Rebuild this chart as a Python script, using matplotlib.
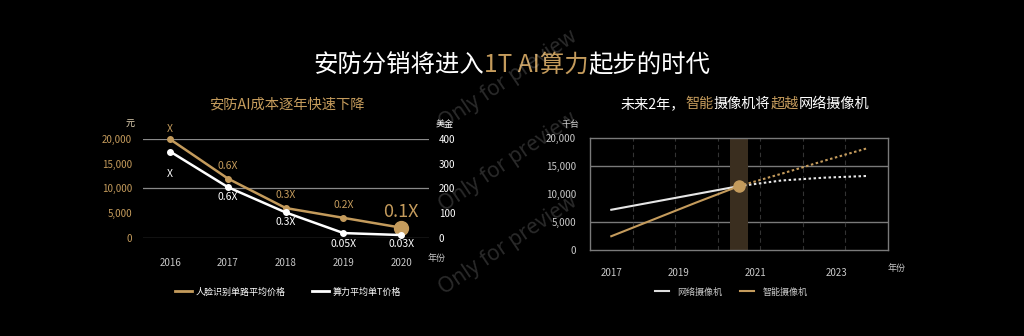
import matplotlib
matplotlib.use("Agg")
import matplotlib.pyplot as plt
from matplotlib.lines import Line2D

plt.rcParams['font.family'] = ['Noto Sans CJK SC', 'DejaVu Sans']

# ---- data -------------------------------------------------------------
cost_years = [2016, 2017, 2018, 2019, 2020]
face_price = [20000, 12000, 6000, 4000, 2000]          # 元, left axis
face_labels = ['X', '0.6X', '0.3X', '0.2X', '0.1X']
tflop_price = [350, 205, 102, 18, 10]                 # 美金, right axis
tflop_labels = ['X', '0.6X', '0.3X', '0.05X', '0.03X']
left_yticks = [0, 5000, 10000, 15000, 20000]
right_yticks = [0, 100, 200, 300, 400]

cam_years_hist = [2017, 2018, 2019, 2020]
cam_years_fcst = [2020, 2021, 2022, 2023]
ipc_hist = [7200, 8600, 10000, 11400]                 # 网络摄像机, 千台
ipc_fcst = [11400, 12400, 12900, 13200]
smart_hist = [2500, 5500, 8500, 11400]                # 智能摄像机, 千台
smart_fcst = [11400, 13600, 15900, 18100]
cross_year = 2020
cam_yticks = [0, 5000, 10000, 15000, 20000]
cam_tick_labels = ['2017', '2019', '2021', '2023']
cam_tick_pos = [2017.0, 2018.58, 2020.38, 2022.28]

# ---- style ------------------------------------------------------------
W, H = 1024, 336
BG = '#000000'
GOLD = '#c49b5c'
WHITE = '#f2f2f2'
GRID = '#8a8a8a'
TICK = '#c8c8c8'

fig = plt.figure(figsize=(W / 100, H / 100), dpi=100, facecolor=BG)


def fx(px):
    return px / W


def fy(py):
    return 1 - py / H


def rich_text(xc, yc, parts, size):
    """Place consecutive coloured text runs centred on (xc, yc) in pixels."""
    renderer = fig.canvas.get_renderer()
    items = [fig.text(0, fy(yc), s, color=c, fontsize=size, ha='left', va='center')
             for s, c in parts]
    widths = [t.get_window_extent(renderer).width for t in items]
    x = xc - sum(widths) / 2
    for t, w in zip(items, widths):
        t.set_x(fx(x))
        x += w


# ---- titles -----------------------------------------------------------
rich_text(512, 65, [('安防分销将进入', 'white'), ('1T AI算力', GOLD), ('起步的时代', 'white')], 17.6)
rich_text(287, 104, [('安防AI成本逐年快速下降', GOLD)], 10.3)
rich_text(745, 104, [('未来2年，', 'white'), ('智能', GOLD), ('摄像机将', 'white'),
                     ('超越', GOLD), ('网络摄像机', 'white')], 10.2)

# ---- left chart: cost decline ----------------------------------------
ax1 = fig.add_axes([fx(143), fy(237.5), (429 - 143) / W, (237.5 - 139.3) / H])
ax1.set_facecolor('none')
ax1.set_xlim(2015.53, 2020.48)
ax1.set_ylim(0, 20000)
for v in (0, 10000, 20000):
    ax1.axhline(v, color=GRID, lw=0.9, zorder=0)
for s in ax1.spines.values():
    s.set_visible(False)
ax1.set_yticks(left_yticks)
ax1.set_yticklabels([f'{v:,}' for v in left_yticks])
ax1.set_xticks(cost_years)
ax1.set_xticklabels([str(y) for y in cost_years])
ax1.tick_params(axis='y', length=0, pad=8, labelsize=7, labelcolor=GOLD)
ax1.tick_params(axis='x', length=0, pad=15, labelsize=7, labelcolor=TICK)

ax2 = ax1.twinx()
ax2.set_ylim(0, 400)
for s in ax2.spines.values():
    s.set_visible(False)
ax2.set_yticks(right_yticks)
ax2.tick_params(axis='y', length=0, pad=7, labelsize=7, labelcolor='white')

ax1.plot(cost_years, face_price, color=GOLD, lw=1.8, marker='o', ms=4, zorder=3, clip_on=False)
ax1.plot(cost_years[-1], face_price[-1], 'o', color=GOLD, ms=10, zorder=4, clip_on=False)
ax2.plot(cost_years, tflop_price, color='white', lw=1.8, marker='o', ms=4, zorder=3, clip_on=False)

gold_off = [10, 13, 13, 13, 16]
for x, y, lab, off in zip(cost_years, face_price, face_labels, gold_off):
    big = lab == face_labels[-1]
    ax1.annotate(lab, (x, y), xytext=(0, off), textcoords='offset pixels', ha='center',
                 va='center', color=GOLD, fontsize=13 if big else 7.5,
                 annotation_clip=False)
white_off = [-22, -10, -10, -11, -9]
for x, y, lab, off in zip(cost_years, tflop_price, tflop_labels, white_off):
    ax2.annotate(lab, (x, y), xytext=(0, off), textcoords='offset pixels', ha='center',
                 va='center', color='white', fontsize=7.5, annotation_clip=False)

fig.text(fx(130), fy(124), '元', color='#e8d8b8', fontsize=6.5, ha='center', va='center')
fig.text(fx(445), fy(124), '美金', color='white', fontsize=6.5, ha='center', va='center')
fig.text(fx(437), fy(258), '年份', color=TICK, fontsize=6.5, ha='center', va='center')

fig.legend(handles=[Line2D([], [], color=GOLD, lw=2), Line2D([], [], color='white', lw=2)],
           labels=['人脸识别单路平均价格', '算力平均单T价格'], ncol=2,
           loc='center left', bbox_to_anchor=(fx(175), fy(292)), frameon=False,
           fontsize=6.5, labelcolor='white', borderpad=0, borderaxespad=0,
           handlelength=1.9, handletextpad=0.4, columnspacing=2.9)

# ---- right chart: camera shipments -----------------------------------
ax3 = fig.add_axes([fx(590), fy(250.3), (888 - 590) / W, (250.3 - 137.7) / H])
ax3.set_facecolor('none')
ax3.set_xlim(2016.5, 2023.5)
ax3.set_ylim(0, 20000)
for s in ax3.spines.values():
    s.set_color('#7a7a7a')
    s.set_linewidth(1.0)
for v in (5000, 15000):
    ax3.axhline(v, color='#7a7a7a', lw=1.0, zorder=0)
for xv in [2017.5, 2018.5, 2019.5, 2020.5, 2021.5, 2022.5]:
    ax3.axvline(xv, color='#333333', lw=0.8, ls=(0, (4, 3)), zorder=0)
ax3.axvspan(cross_year - 0.2, cross_year + 0.2, color='#3a2e1f', zorder=0.5, lw=0)

ax3.plot(cam_years_hist, ipc_hist, color='#e6e6e6', lw=1.5, zorder=2)
ax3.plot(cam_years_fcst, ipc_fcst, color='#e6e6e6', lw=1.5, ls=(0, (1.2, 1.2)), zorder=2)
ax3.plot(cam_years_hist, smart_hist, color=GOLD, lw=1.5, zorder=3)
ax3.plot(cam_years_fcst, smart_fcst, color=GOLD, lw=1.5, ls=(0, (1.2, 1.2)), zorder=3)
ax3.plot(cross_year, smart_hist[-1], 'o', color=GOLD, ms=8, zorder=4)

ax3.set_yticks(cam_yticks)
ax3.set_yticklabels([f'{v:,}' for v in cam_yticks])
ax3.set_xticks(cam_tick_pos)
ax3.set_xticklabels(cam_tick_labels)
ax3.tick_params(axis='y', length=0, pad=10, labelsize=7, labelcolor=TICK)
ax3.tick_params(axis='x', length=0, pad=13, labelsize=7, labelcolor=TICK)

fig.text(fx(570), fy(124), '千台', color=TICK, fontsize=6.5, ha='center', va='center')
fig.text(fx(897), fy(268), '年份', color=TICK, fontsize=6.5, ha='center', va='center')

fig.legend(handles=[Line2D([], [], color='#dddddd', lw=1.5), Line2D([], [], color=GOLD, lw=1.5)],
           labels=['网络摄像机', '智能摄像机'], ncol=2,
           loc='center left', bbox_to_anchor=(fx(655), fy(292)), frameon=False,
           fontsize=6.5, labelcolor=TICK, borderpad=0, borderaxespad=0,
           handlelength=1.55, handletextpad=0.9, columnspacing=2.0)

# ---- watermark --------------------------------------------------------
for cy in (80, 162, 245):
    fig.text(fx(508), fy(cy), 'Only for preview', color='white', alpha=0.17,
             fontsize=15, family='Noto Sans', rotation=34, rotation_mode='anchor',
             ha='center', va='center')

fig.savefig('out.png', dpi=100, facecolor=BG)
